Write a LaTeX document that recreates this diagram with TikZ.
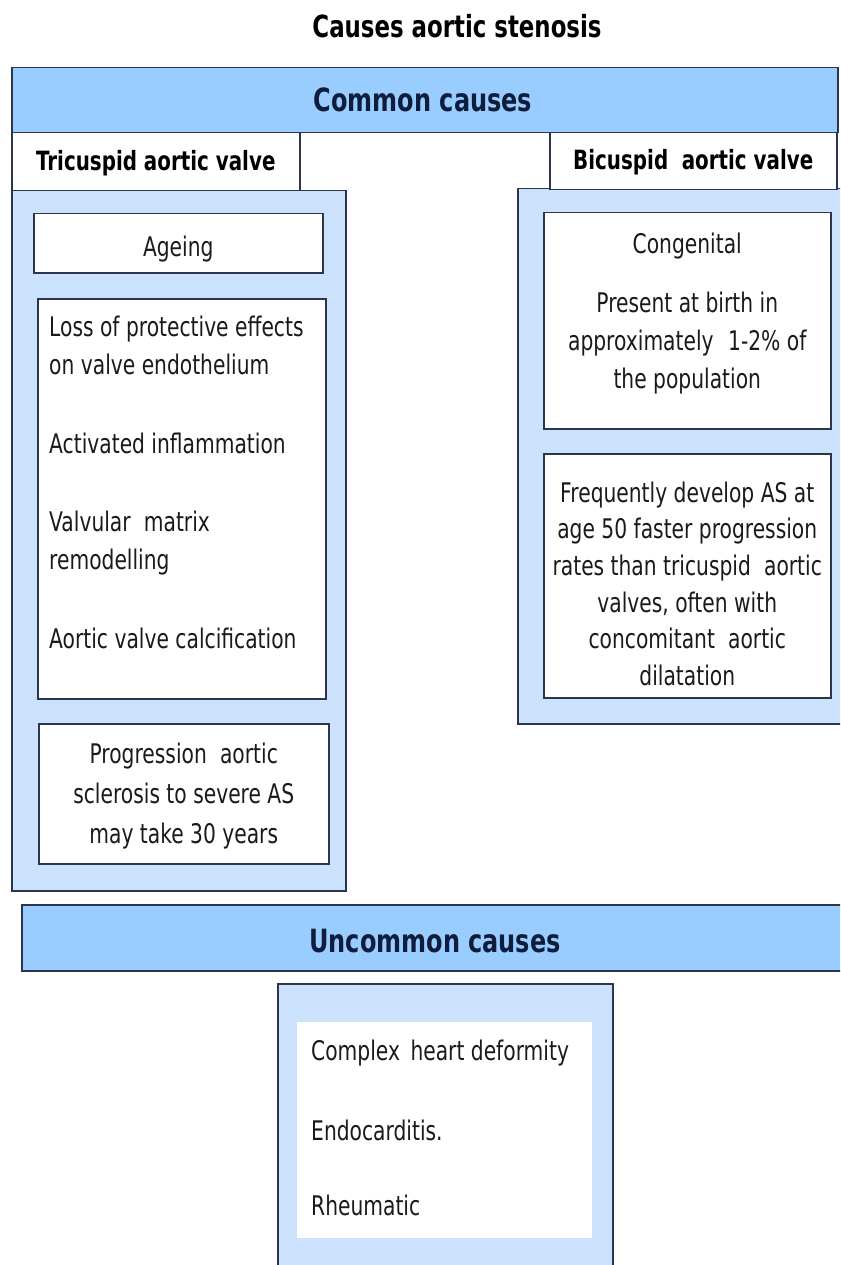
\documentclass[tikz,border=0pt]{standalone}
\usepackage{fontspec}
\setmainfont[FakeStretch=0.75]{DejaVu Sans}
\definecolor{barblue}{HTML}{99CCFF}
\definecolor{panelblue}{HTML}{CCE2FC}
\definecolor{edgecol}{HTML}{2B3550}
\definecolor{bodytext}{HTML}{1A1A1A}
\definecolor{navytext}{HTML}{0F1D3D}
\tikzset{
  frame/.style={draw=edgecol, line width=1.5pt, inner sep=0pt, anchor=north west},
  barbox/.style={frame, fill=barblue},
  panelbox/.style={frame, fill=panelblue},
  whitebox/.style={frame, fill=white},
  plainwhite/.style={fill=white, draw=none, inner sep=0pt, anchor=north west},
  body/.style={font=\fontsize{27}{37}\selectfont, text=bodytext, inner sep=0pt, anchor=base},
  bodyl/.style={body, anchor=base west},
  heading/.style={font=\bfseries\fontsize{32}{38}\selectfont, text=navytext, inner sep=0pt, anchor=base},
  label/.style={font=\bfseries\fontsize{26.5}{32}\selectfont, text=black, inner sep=0pt, anchor=base},
  titletext/.style={font=\bfseries\fontsize{30.5}{36}\selectfont, text=black, inner sep=0pt, anchor=base}
}
\begin{document}
\begin{tikzpicture}[x=1pt,y=-1pt]
\useasboundingbox (0,0) rectangle (840,1265);
\clip (0,0) rectangle (840,1265);
\fill[white] (0,0) rectangle (840,1265);

% title
\node[titletext] (title) at (457,38) {Causes aortic stenosis};

% common causes bar
\node[barbox, minimum width=826pt, minimum height=65pt] (commonbar) at (11,67) {};
\node[heading] (commontxt) at (423,112) {Common causes};

% left column
\node[panelbox, minimum width=334pt, minimum height=700pt] (leftpanel) at (11,190) {};
\node[whitebox, minimum width=288pt, minimum height=58pt] (trilabel) at (11,132) {};
\node[label] (tritxt) at (trilabel.center |- 0,171) {Tricuspid aortic valve};

\node[whitebox, minimum width=289pt, minimum height=59pt] (ageing) at (33,213) {};
\node[body] (ageingtxt) at (ageing.center |- 0,256) {Ageing};

\node[whitebox, minimum width=288pt, minimum height=400pt] (mechbox) at (37,298) {};
\node[bodyl] (m1) at (49,336) {Loss of protective effects};
\node[bodyl] (m2) at (49,374) {on valve endothelium};
\node[bodyl] (m3) at (49,453) {Activated inflammation};
\node[bodyl] (m4) at (49,531) {Valvular\hspace{0.25em} matrix};
\node[bodyl] (m5) at (49,569) {remodelling};
\node[bodyl] (m6) at (49,648) {Aortic valve calcification};

\node[whitebox, minimum width=290pt, minimum height=140pt] (progbox) at (38,723) {};
\node[body] (p1) at (progbox.center |- 0,763) {Progression\hspace{0.25em} aortic};
\node[body] (p2) at (progbox.center |- 0,803) {sclerosis to severe AS};
\node[body] (p3) at (progbox.center |- 0,843) {may take 30 years};

% right column
\node[panelbox, minimum width=340pt, minimum height=535pt] (rightpanel) at (517,188) {};
\node[whitebox, minimum width=287pt, minimum height=57pt] (biclabel) at (549,132) {};
\node[label] (bictxt) at (biclabel.center |- 0,170) {Bicuspid\hspace{0.25em} aortic valve};

\node[whitebox, minimum width=287pt, minimum height=216pt] (congbox) at (543,212) {};
\node[body] (c1) at (congbox.center |- 0,254) {Congenital};
\node[body] (c2) at (congbox.center |- 0,312) {Present at birth in};
\node[body] (c3) at (congbox.center |- 0,350) {approximately\hspace{0.3em} 1-2\% of};
\node[body] (c4) at (congbox.center |- 0,388) {the population};

\node[whitebox, minimum width=287pt, minimum height=244pt] (freqbox) at (543,453) {};
\node[body] (f1) at (freqbox.center |- 0,502) {Frequently develop AS at};
\node[body] (f2) at (freqbox.center |- 0,538) {age 50 faster progression};
\node[body] (f3) at (freqbox.center |- 0,575) {rates than tricuspid\hspace{0.25em} aortic};
\node[body] (f4) at (freqbox.center |- 0,612) {valves, often with};
\node[body] (f5) at (freqbox.center |- 0,648) {concomitant\hspace{0.25em} aortic};
\node[body] (f6) at (freqbox.center |- 0,685) {dilatation};

% uncommon causes
\node[barbox, minimum width=840pt, minimum height=66pt] (uncommonbar) at (21,904) {};
\node[heading] (uncommontxt) at (435,952) {Uncommon causes};

\node[panelbox, minimum width=335pt, minimum height=320pt] (bottompanel) at (277,983) {};
\node[plainwhite, minimum width=295pt, minimum height=216pt] (bottominner) at (297,1022) {};
\node[bodyl] (u1) at (311,1060) {Complex\hspace{0.15em} heart deformity};
\node[bodyl] (u2) at (311,1140) {Endocarditis.};
\node[bodyl] (u3) at (311,1215) {Rheumatic};
\end{tikzpicture}
\end{document}
